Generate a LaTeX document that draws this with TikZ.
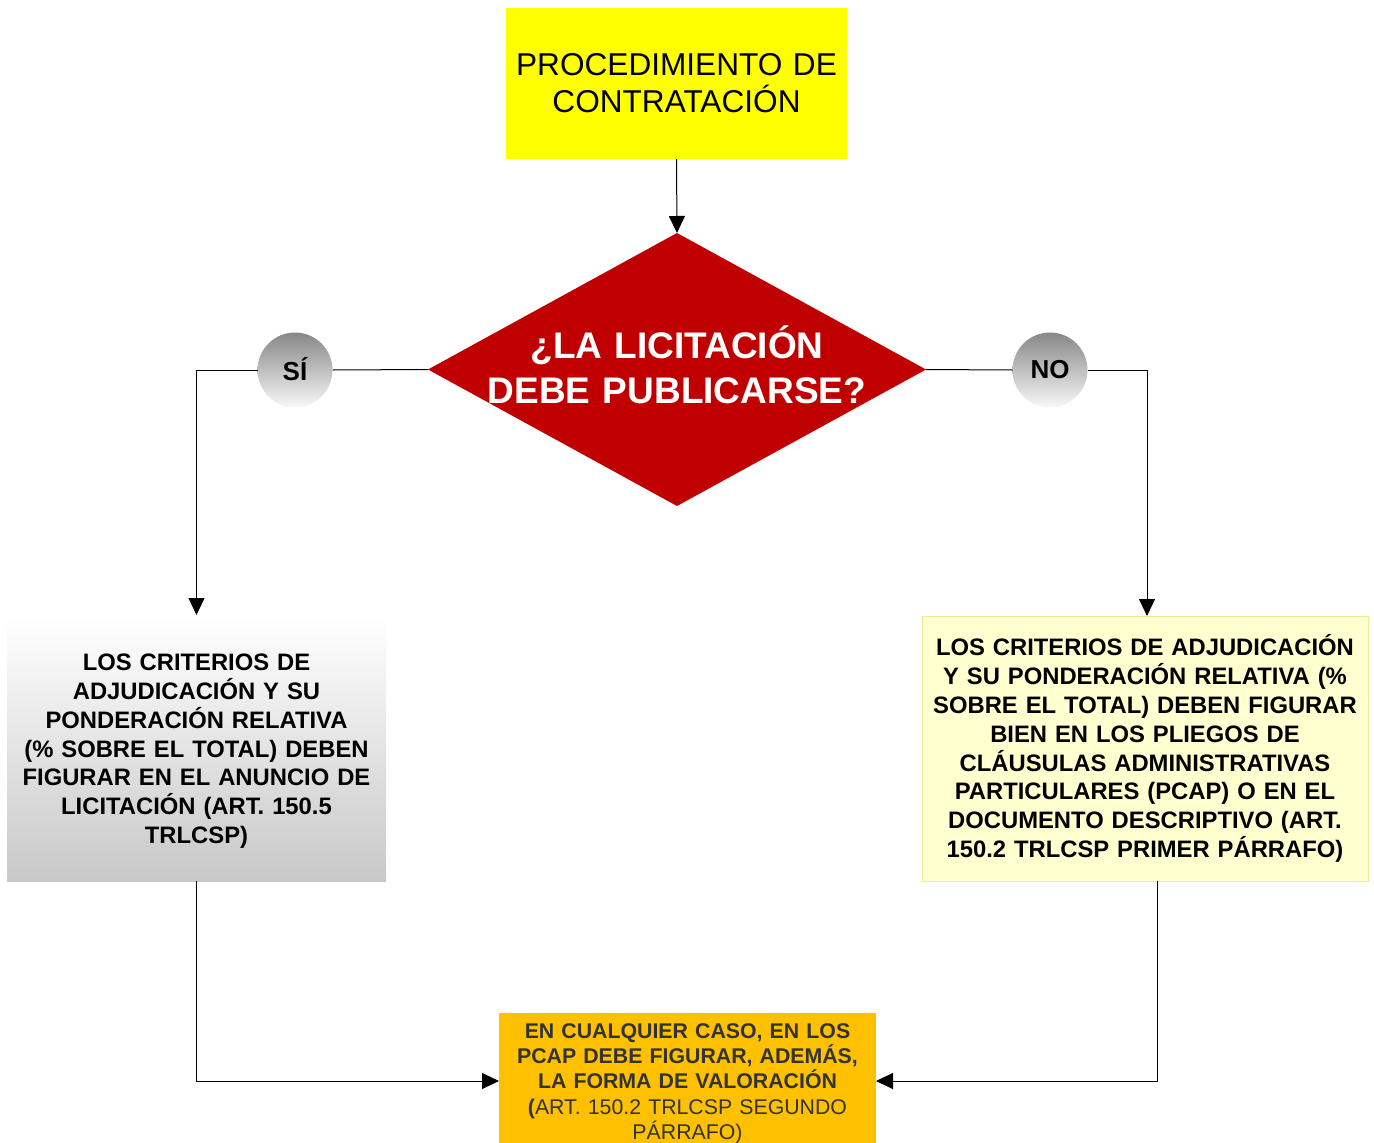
\documentclass[tikz,border=0pt]{standalone}
\usepackage{fontspec}
\setmainfont{Liberation Sans}
\usetikzlibrary{shapes.geometric,arrows.meta}
\definecolor{dred}{RGB}{192,0,0}
\definecolor{ylw}{RGB}{255,255,0}
\definecolor{lyfill}{RGB}{255,255,208}
\definecolor{lydraw}{RGB}{238,238,140}
\definecolor{orng}{RGB}{255,192,0}
\definecolor{dgray}{RGB}{51,51,51}
\begin{document}
\begin{tikzpicture}[x=1pt,y=-1pt,
  line width=1pt,
  arr/.style={-{Triangle[width=16pt,length=17pt]}},
  box/.style={rectangle,inner sep=0pt,outer sep=0pt,align=center},
  circ/.style={circle,inner sep=0pt,outer sep=0pt,minimum size=75pt,
    shading=axis,top color={rgb,255:red,135;green,135;blue,135},
    bottom color={rgb,255:red,248;green,248;blue,248},
    font=\fontsize{26}{30}\selectfont\bfseries},
]
\useasboundingbox (0,0) rectangle (1374,1143);

\node[box,fill=ylw,minimum width=341pt,minimum height=151pt,text width=335pt,
  font=\fontsize{31.6}{37}\selectfont] (top) at (676.5,83.5)
  {PROCEDIMIENTO DE\\CONTRATACIÓN\rule[-2pt]{0pt}{2pt}};

\node[diamond,fill=dred,inner sep=0pt,outer sep=0pt,minimum width=498pt,minimum height=273pt] (dec) at (677,369.5) {};
\node[box,text=white,text width=420pt,font=\fontsize{37}{45}\selectfont\bfseries] (dect) at (677,365)
  {¿LA LICITACIÓN\\DEBE PUBLICARSE?};

\node[circ] (si) at (295,370) {\raisebox{1.5pt}{SÍ}};
\node[circ] (no) at (1050,370) {NO};

\node[box,shading=axis,top color=white,bottom color={rgb,255:red,200;green,200;blue,200},
  minimum width=379pt,minimum height=266pt,text width=375pt,
  font=\fontsize{23.8}{28.8}\selectfont\bfseries] (left) at (196.5,748)
  {\rule{0pt}{23pt}LOS CRITERIOS DE\\ADJUDICACIÓN Y SU\\PONDERACIÓN RELATIVA\\(\% SOBRE EL TOTAL) DEBEN\\FIGURAR EN EL ANUNCIO DE\\LICITACIÓN (ART. 150.5\\TRLCSP)};

\node[box,fill=lyfill,draw=lydraw,minimum width=446pt,minimum height=265pt,text width=440pt,
  font=\fontsize{23.8}{28.9}\selectfont\bfseries] (right) at (1145,748.5)
  {LOS CRITERIOS DE ADJUDICACIÓN\\Y SU PONDERACIÓN RELATIVA (\%\\SOBRE EL TOTAL) DEBEN FIGURAR\\BIEN EN LOS PLIEGOS DE\\CLÁUSULAS ADMINISTRATIVAS\\PARTICULARES (PCAP) O EN EL\\DOCUMENTO DESCRIPTIVO (ART.\\150.2 TRLCSP PRIMER PÁRRAFO)};

\node[box,fill=orng,text=dgray,minimum width=377pt,minimum height=129pt,text width=372pt,
  font=\fontsize{21.3}{25.3}\selectfont] (bot) at (687.5,1078.5)
  {\rule{0pt}{25pt}\textbf{EN CUALQUIER CASO, EN LOS}\\\textbf{PCAP DEBE FIGURAR, ADEMÁS,}\\\textbf{LA FORMA DE VALORACIÓN}\\\textbf{(}ART. 150.2 TRLCSP SEGUNDO\\PÁRRAFO)};

\draw[arr] (top.south) -- (dec.north);
\draw (dec.west) -- (si.east);
\draw[arr] (si.west) -| (left.north);
\draw (dec.east) -- (no.west);
\draw[arr] (no.east) -| ([xshift=2pt]right.north);
\draw[arr] (left.south) |- ([yshift=-2.5pt]bot.west);
\draw[arr] ([xshift=12pt]right.south) |- ([yshift=-2.5pt]bot.east);
\end{tikzpicture}
\end{document}
